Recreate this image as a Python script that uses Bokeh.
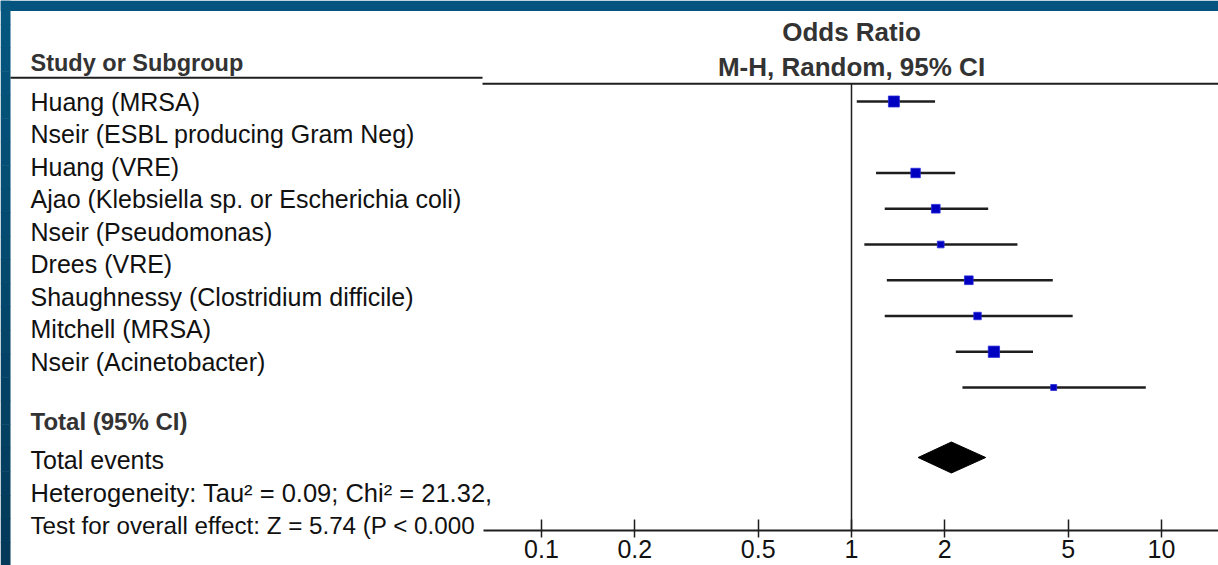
from bokeh.plotting import figure
from bokeh.models import (Range1d, FixedTicker, CustomJSTickFormatter, ColumnDataSource, Label)
from bokeh.embed import file_html
from bokeh.resources import INLINE
from bokeh.core.properties import value
import math

# ---------------- data ----------------
study_labels = [
    "Huang (MRSA)",
    "Nseir (ESBL producing Gram Neg)",
    "Huang (VRE)",
    "Ajao (Klebsiella sp. or Escherichia coli)",
    "Nseir (Pseudomonas)",
    "Drees (VRE)",
    "Shaughnessy (Clostridium difficile)",
    "Mitchell (MRSA)",
    "Nseir (Acinetobacter)",
]
nan = float("nan")
odds_ratio = [1.37, nan, 1.61, 1.87, 1.94, 2.39, 2.55, 2.88, 4.49]
ci_lower   = [1.04, nan, 1.20, 1.28, 1.10, 1.30, 1.28, 2.17, 2.28]
ci_upper   = [1.86, nan, 2.16, 2.76, 3.43, 4.46, 5.17, 3.85, 8.90]
weight_pct = [19.3, nan, 14.3, 12.1, 7.2, 12.1, 8.9, 20.4, 5.7]

total_or, total_lo, total_hi = 2.10, 1.64, 2.71

footer_bold = "Total (95% CI)"
footer_lines = [
    "Total events",
    "Heterogeneity: Tau\u00b2 = 0.09; Chi\u00b2 = 21.32,",
    "Test for overall effect: Z = 5.74 (P < 0.000",
]
header_left = "Study or Subgroup"
header_right = ["Odds Ratio", "M-H, Random, 95% CI"]

tick_values = [0.1, 0.2, 0.5, 1, 2, 5, 10]
tick_labels = ["0.1", "0.2", "0.5", "1", "2", "5", "10"]

# ---------------- layout helpers ----------------
W, H = 1218, 565
X_ONE = 851        # screen x of OR = 1
DECADE = 310       # pixels per decade
AXIS_Y = 530


def sx(X):
    """screen pixel x -> data x on the log axis"""
    return 10 ** ((X - X_ONE) / DECADE)


FONT = "Liberation Sans"
TXT = "#111111"
BOLD = "#333333"
LINE = "#1e1e1e"

p = figure(width=W, height=H,
           x_axis_type="log",
           x_range=Range1d(sx(0), sx(W)),
           y_range=Range1d(H, 0),
           output_backend="svg", toolbar_location=None,
           min_border_left=0, min_border_right=0, min_border_top=0, min_border_bottom=0,
           y_axis_location=None, x_axis_location="below",
           background_fill_color="white", border_fill_color="white",
           outline_line_color=None)
p.grid.visible = False

# blue slide frame: top band and left strip (vertical gradient)
p.quad(left=[sx(0)], right=[sx(W)], top=[0], bottom=[10.5],
       fill_color="#05547f", line_color=None)
N = 24
c0, c1 = (5, 87, 128), (4, 57, 89)
strip_cols = ["#%02x%02x%02x" % tuple(round(a + (b - a) * k / (N - 1)) for a, b in zip(c0, c1))
              for k in range(N)]
p.quad(left=[sx(0)] * N, right=[sx(10)] * N,
       top=[H * k / N for k in range(N)], bottom=[H * (k + 1) / N + 0.5 for k in range(N)],
       fill_color=strip_cols, line_color=None)

# x axis, drawn at a fixed location inside the plotting area
ax = p.xaxis[0]
ax.fixed_location = AXIS_Y
ax.ticker = FixedTicker(ticks=tick_values)
ax.formatter = CustomJSTickFormatter(
    args=dict(vals=tick_values, labs=tick_labels),
    code="""
    for (let i = 0; i < vals.length; i++) {
        if (Math.abs(vals[i] - tick) < 1e-9 * Math.max(1, tick)) return labs[i];
    }
    return tick.toString();
    """)
ax.bounds = (sx(483), sx(W))
ax.axis_line_color = LINE
ax.axis_line_width = 2
ax.major_tick_line_color = LINE
ax.major_tick_line_width = 1.5
ax.major_tick_in = 11
ax.major_tick_out = 7
ax.minor_tick_line_color = None
ax.major_label_standoff = 2
ax.major_label_text_font = FONT
ax.major_label_text_font_size = "25px"
ax.major_label_text_color = TXT

# header lines and the line of no effect
p.segment(x0=[sx(10)], y0=[77.3], x1=[sx(482)], y1=[77.3], line_color=LINE, line_width=2)
p.segment(x0=[sx(482)], y0=[83.3], x1=[sx(W)], y1=[83.3], line_color=LINE, line_width=2)
p.segment(x0=[1], y0=[83.3], x1=[1], y1=[AXIS_Y], line_color=LINE, line_width=1.5)

# study rows (plot area)
ROW0, ROW_STEP = 101, 35.75
rows = [i for i in range(len(study_labels)) if not math.isnan(odds_ratio[i])]
src = ColumnDataSource(dict(
    y=[ROW0 + ROW_STEP * i for i in rows],
    est=[odds_ratio[i] for i in rows],
    lo=[ci_lower[i] for i in rows],
    hi=[ci_upper[i] for i in rows],
    size=[2.5 * math.sqrt(weight_pct[i]) for i in rows],
))
p.segment(x0="lo", y0="y", x1="hi", y1="y", source=src, line_color=LINE, line_width=2.5)
p.rect(x="est", y="y", width="size", height="size", width_units="screen", height_units="screen",
       source=src, fill_color="#0000c0", line_color="#2a2ad8", line_width=0.8)

# pooled diamond
DY, DH = 457, 15.5
p.patch(x=[total_lo, total_or, total_hi, total_or], y=[DY, DY - DH, DY, DY + DH],
        fill_color="black", line_color="black", line_width=1)

# left-hand labels
LX = sx(30)
LAB0, LAB_STEP = 101, 32.5
lab_src = ColumnDataSource(dict(
    x=[LX] * len(study_labels),
    y=[LAB0 + LAB_STEP * i for i in range(len(study_labels))],
    text=study_labels,
))
p.text(x="x", y="y", text="text", source=lab_src, text_font=value(FONT),
       text_font_size="25px", text_baseline="middle", text_align="left", text_color=TXT)

p.add_layout(Label(x=LX, y=62, text=header_left, text_font=FONT, text_font_size="23.5px",
                   text_font_style="bold", text_baseline="middle", text_color=BOLD))
for txt, yy in zip(header_right, [31, 66]):
    p.add_layout(Label(x=1, y=yy, text=txt, text_font=FONT, text_font_size="26px",
                       text_font_style="bold", text_baseline="middle", text_align="center",
                       text_color=BOLD))
p.add_layout(Label(x=LX, y=421, text=footer_bold, text_font=FONT, text_font_size="24px",
                   text_font_style="bold", text_baseline="middle", text_color=BOLD))
for txt, yy, fs in zip(footer_lines, [459, 492, 525], ["25px", "25.5px", "24.2px"]):
    p.add_layout(Label(x=LX, y=yy, text=txt, text_font=FONT, text_font_size=fs,
                       text_baseline="middle", text_color=TXT))

open("out.html", "w").write(file_html(p, INLINE))
